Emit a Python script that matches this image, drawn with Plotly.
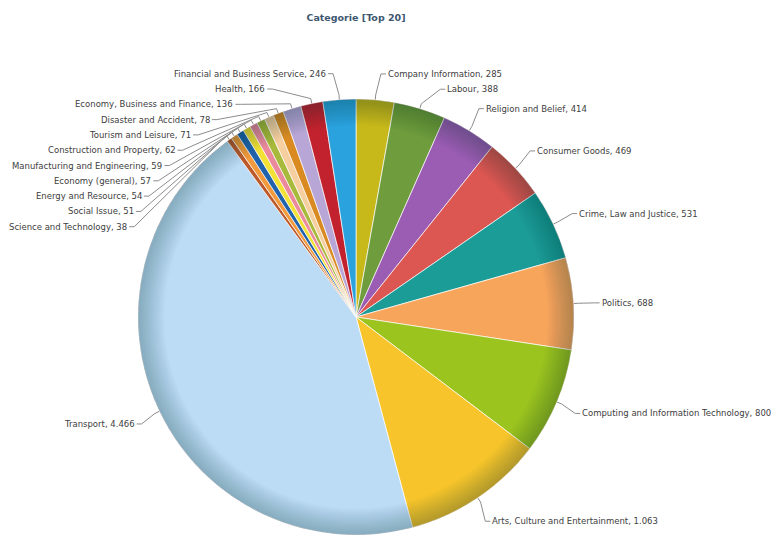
import math
import plotly.graph_objects as go

# ---------------- data ----------------
title_text = "Categorie [Top 20]"
categories = [
    "Company Information", "Labour", "Religion and Belief", "Consumer Goods",
    "Crime, Law and Justice", "Politics", "Computing and Information Technology",
    "Arts, Culture and Entertainment", "Transport", "Science and Technology",
    "Social Issue", "Energy and Resource", "Economy (general)",
    "Manufacturing and Engineering", "Construction and Property",
    "Tourism and Leisure", "Disaster and Accident", "Economy, Business and Finance",
    "Health", "Financial and Business Service",
]
values = [285, 388, 414, 469, 531, 688, 800, 1063, 4466, 38,
          51, 54, 57, 59, 62, 71, 78, 136, 166, 246]
colors = [
    "#c8b91a", "#6f9c3d", "#9b5cb4", "#dc5652", "#1c9c97", "#f8a55c",
    "#9cc41f", "#f7c52b", "#bcdcf6", "#bd5a2c", "#f39a3c", "#2162ad",
    "#f3e236", "#ea8a9c", "#a8ba3c", "#f6cfa0", "#d98b22", "#b8a6d7",
    "#c1222d", "#2aa2de",
]

# ---------------- geometry ----------------
W, H = 774, 535
CX, CY, R = 356, 317, 218
LR = 245          # radius of label circle
STEP = 15.3       # minimum vertical distance between labels
LABEL_FONT = dict(family="DejaVu Sans, Verdana, sans-serif", size=8.5, color="#404040")

def px(x):
    return x / W

def py(y):
    return 1 - y / H

dom_x = [px(CX - R), px(CX + R)]
dom_y = [max(0.0, py(CY + R)), py(CY - R)]

fig = go.Figure()
fig.add_trace(go.Pie(
    labels=categories, values=values, sort=False, direction="clockwise",
    rotation=0, marker=dict(colors=colors, line=dict(color="rgba(255,255,255,0.85)", width=0.8)),
    textinfo="none", hovertemplate="%{label}: %{value}<extra></extra>",
    domain=dict(x=dom_x, y=dom_y), showlegend=False,
))

# rim shading (simulating the radial gradient of the original)
n_rings = 14
for k in range(n_rings):
    hole = 0.88 + 0.115 * k / n_rings
    fig.add_trace(go.Pie(
        values=[1], hole=hole, sort=False, textinfo="none", hoverinfo="skip",
        marker=dict(colors=["rgba(20,30,40,0.02)"], line=dict(width=0)),
        domain=dict(x=dom_x, y=dom_y), showlegend=False,
    ))

# ---------------- labels ----------------
total = float(sum(values))
mids = []
cum = 0.0
for v in values:
    mids.append((cum + v / 2.0) / total * 2 * math.pi)
    cum += v

def fmt(v):
    return f"{v:,}".replace(",", ".")

items = []
for i, a in enumerate(mids):
    side = 1 if math.sin(a) >= 0 else -1
    y = CY - LR * math.cos(a) + 1
    items.append(dict(i=i, a=a, side=side, y=y))

for side in (1, -1):
    grp = sorted([it for it in items if it["side"] == side], key=lambda d: d["y"])
    prev = None
    for it in grp:
        if prev is not None and it["y"] < prev + STEP:
            it["y"] = prev + STEP
        prev = it["y"]

annotations = []
shapes = []
for it in items:
    i, a, side, y = it["i"], it["a"], it["side"], it["y"]
    dy = y - CY
    dx = math.sqrt(max(LR * LR - dy * dy, 0.0))
    xt = CX + side * dx
    annotations.append(dict(
        x=px(xt), y=py(y), xref="paper", yref="paper",
        text=f"{categories[i]}, {fmt(values[i])}", showarrow=False,
        xanchor="left" if side > 0 else "right", yanchor="middle",
        font=LABEL_FONT, borderpad=0,
    ))
    p0 = (xt - side * 1, y)
    p1 = (xt - side * 6, y)
    p2 = (CX + (R + 5) * math.sin(a), CY - (R + 5) * math.cos(a))
    p3 = (CX + R * math.sin(a), CY - R * math.cos(a))
    path = "M {} {} L {} {} L {} {} L {} {}".format(
        px(p0[0]), py(p0[1]), px(p1[0]), py(p1[1]),
        px(p2[0]), py(p2[1]), px(p3[0]), py(p3[1]))
    shapes.append(dict(type="path", path=path, xref="paper", yref="paper",
                       line=dict(color="#8c8c8c", width=1), layer="below"))

fig.update_layout(
    width=W, height=H,
    margin=dict(l=0, r=0, t=0, b=0),
    paper_bgcolor="white", plot_bgcolor="white",
    showlegend=False,
    title=dict(text=f"<b>{title_text}</b>", x=px(356), xanchor="center",
               y=py(18), yanchor="middle", yref="container",
               font=dict(family="DejaVu Sans, Verdana, sans-serif", size=9.5, color="#3E576F")),
    annotations=annotations,
    shapes=shapes,
)

fig.write_html("out.html")
